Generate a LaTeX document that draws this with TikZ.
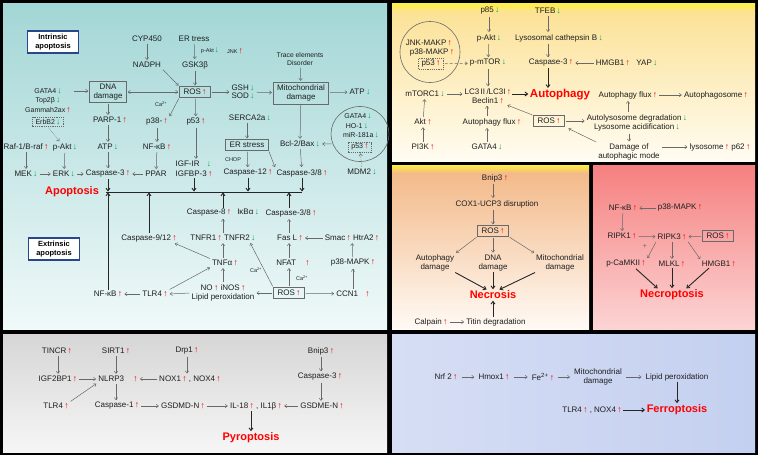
\documentclass[tikz,border=0pt]{standalone}
\usepackage{fontspec}
\setmainfont{Liberation Sans}
\usetikzlibrary{arrows.meta,shapes.geometric}
\definecolor{txt}{RGB}{30,30,30}
\definecolor{lnc}{RGB}{105,105,105}
\definecolor{upc}{RGB}{240,0,0}
\definecolor{dnc}{RGB}{0,170,80}
\definecolor{ttlred}{RGB}{255,0,0}
\definecolor{boxblue}{RGB}{40,70,140}
\newcommand{\U}{\,{\fontsize{8.6}{8}\selectfont\bfseries\color{upc}↑}}
\newcommand{\D}{\,{\fontsize{8.6}{8}\selectfont\bfseries\color{dnc}↓}}
\begin{document}
\begin{tikzpicture}[x=1pt,y=-1pt,
  t/.style={font=\fontsize{8}{9.2}\selectfont, text=txt, inner sep=1pt},
  ts/.style={font=\fontsize{7}{8}\selectfont, text=txt, inner sep=1pt},
  tx/.style={font=\fontsize{5.5}{6}\selectfont, text=txt, inner sep=0.5pt},
  gbox/.style={t, draw=lnc, line width=0.6pt, inner xsep=4pt, inner ysep=2.5pt},
  dbox/.style={t, draw=lnc, dash pattern=on 1.2pt off 1pt, line width=0.5pt, inner xsep=3pt, inner ysep=2pt},
  ttl/.style={font=\fontsize{11}{12}\selectfont\bfseries, text=ttlred, inner sep=1pt},
  tbox/.style={draw=boxblue, line width=1.2pt, fill=white, font=\fontsize{7.5}{9}\selectfont\bfseries, align=center, minimum width=51pt, minimum height=22pt, inner sep=1pt},
  ar/.style={draw=lnc, line width=0.5pt, shorten >=1pt, shorten <=1pt, -{Straight Barb[length=2.2pt,width=3.4pt]}},
  dar/.style={draw=lnc, line width=0.5pt, shorten >=1pt, shorten <=1pt, {Straight Barb[length=2.2pt,width=3.4pt]}-{Straight Barb[length=2.2pt,width=3.4pt]}},
  tar/.style={draw=black!85, line width=0.9pt, shorten >=0.5pt, -{Straight Barb[length=2.6pt,width=4pt]}},
  circ/.style={draw=lnc, line width=0.6pt, ellipse, inner sep=0pt},
]
\useasboundingbox (0,0) rectangle (758,455);
\fill[black] (0,0) rectangle (758,455);
% panels
\shade[top color={rgb,255:red,163;green,214;blue,214}, bottom color={rgb,255:red,240;green,249;blue,249}] (3,3) rectangle (387,329);
\shade[top color={rgb,255:red,255;green,238;blue,70}, bottom color={rgb,255:red,252;green,226;blue,152}] (392,3) rectangle (755,13);
\shade[top color={rgb,255:red,252;green,226;blue,152}, bottom color={rgb,255:red,255;green,252;blue,242}] (392,13) rectangle (755,161);
\shade[top color={rgb,255:red,255;green,238;blue,60}, bottom color={rgb,255:red,243;green,186;blue,138}] (392,165) rectangle (589,173);
\shade[top color={rgb,255:red,243;green,186;blue,138}, bottom color={rgb,255:red,255;green,250;blue,245}] (392,173) rectangle (589,329);
\shade[top color={rgb,255:red,246;green,128;blue,128}, bottom color={rgb,255:red,252;green,212;blue,212}] (593,165) rectangle (755,329);
\shade[top color={rgb,255:red,214;green,214;blue,214}, bottom color={rgb,255:red,246;green,246;blue,246}] (3,334) rectangle (387,452);
\shade[left color={rgb,255:red,214;green,222;blue,244}, right color={rgb,255:red,196;green,208;blue,240}] (392,334) rectangle (755,452);

% ================= Apoptosis =================
\node[tbox] (intr) at (53,42) {Intrinsic\\apoptosis};
\node[tbox] (extr) at (54,249) {Extrinsic\\apoptosis};
\node[t] (cyp) at (147,39) {CYP450};
\node[t] (nadph) at (147,65) {NADPH};
\node[t] (ert) at (194,39) {ER tress};
\node[t] (gsk) at (195,65) {GSK3β};
\node[tx] (lpakt) at (210,51) {p-Akt\D};
\node[tx] (ljnk) at (235,51) {JNK\U};
\node[gbox] (ros1) at (195,92) {ROS\U};
\node[gbox, align=center] (dna) at (108,92) {DNA\\damage};
\node[ts] (gata4) at (48,91) {GATA4\D};
\node[ts] (top2) at (48,101) {Top2β\D};
\node[ts] (gam) at (48,110) {Gammah2ax\U};
\node[dbox, font=\fontsize{7}{8}\selectfont] (erbb2) at (48,122) {ErbB2\D};
\node[t] (parp) at (110,120) {PARP-1\U};
\node[t] (p38a) at (157,122) {p38-\U};
\node[t] (p53a) at (196,122) {p53\U};
\node[tx] (ca1) at (161,104) {Ca\textsuperscript{2+}};
\node[t] (raf) at (26,147) {Raf-1/B-raf\U};
\node[t] (pakt1) at (65,147) {p-Akt\D};
\node[t] (atp1) at (108,147) {ATP\D};
\node[t] (nfkb1) at (157,147) {NF-κB\U};
\node[t] (mek) at (26,174) {MEK\D};
\node[t] (erk) at (64,174) {ERK\D};
\node[t] (casp3a) at (108,174) {Caspase-3\U};
\node[t] (ppar) at (156,174) {PPAR};
\node[t, align=left, font=\fontsize{8}{10}\selectfont] (igf) at (194,169) {IGF-IR\hspace{6pt}\D\\IGFBP-3\U};
\node[t, align=left, font=\fontsize{8}{8.6}\selectfont] (gsh) at (243,92) {GSH\D\\SOD\D};
\node[gbox, align=center] (mito1) at (301,93) {Mitochondrial\\damage};
\node[t] (atp2) at (360,92) {ATP\D};
\node[ts, align=center, font=\fontsize{6.8}{8}\selectfont] (trace) at (300,59) {Trace elements\\Disorder};
\node[t] (serca) at (250,118) {SERCA2a\D};
\node[gbox] (ers) at (247,145) {ER stress};
\node[t] (bcl) at (300,144) {Bcl-2/Bax\D};
\node[tx] (chop) at (233,160) {CHOP};
\node[t] (casp12) at (248,173) {Caspase-12\U};
\node[t] (casp38a) at (302,173) {Caspase-3/8\U};
\node[circ, minimum width=58pt, minimum height=55pt] (circA) at (360,134) {};
\node[ts] (gata4b) at (358,116) {GATA4\D};
\node[ts] (ho1) at (357,126) {HO-1\D};
\node[ts] (mir) at (361,135) {miR-181a\D};
\node[dbox, font=\fontsize{7}{8}\selectfont] (p53b) at (360,147) {p53\U};
\node[t] (mdm2) at (362,172) {MDM2\D};
\node[ttl] (apo) at (72,192) {Apoptosis};
\coordinate (barL) at (106,192);
\coordinate (barR) at (302,192);
\draw[black!85, line width=1pt] (barL) -- (barR);

\node[t] (casp912) at (149,238) {Caspase-9/12\U};
\node[t] (casp8) at (223,213) {Caspase-8\U\hspace{6pt}IκBα\D};
\node[t] (casp38b) at (291,213) {Caspase-3/8\U};
\node[t] (tnfr) at (223,238) {TNFR1\U\ TNFR2\D};
\node[t] (fasl) at (290,238) {Fas L\U};
\node[t] (smac) at (352,238) {Smac\U\ HtrA2\U};
\node[t] (tnfa) at (225,263) {TNFα\U};
\node[t] (nfat) at (293,263) {NFAT\hspace{8pt}\U};
\node[t] (p38b) at (353,263) {p38-MAPK\U};
\node[tx] (ca2) at (256,270) {Ca\textsuperscript{2+}};
\node[tx] (ca3) at (302,278) {Ca\textsuperscript{2+}};
\node[gbox] (ros2) at (289,293) {ROS\U};
\node[t] (ccn1) at (353,294) {CCN1\hspace{6pt}\U};
\node[t, align=center] (no) at (223,293) {NO\U\ iNOS\U\\Lipid peroxidation};
\node[t] (tlr4a) at (155,294) {TLR4\U};
\node[t] (nfkb2) at (108,294) {NF-κB\U};

\draw[ar] (cyp) -- (nadph);
\draw[ar] (ert) -- (gsk);
\draw[ar] (gsk) -- (ros1);
\draw[ar] (nadph.south east) -- (ros1.north west);
\draw[dar] (dna) -- (ros1);
\draw[ar] ([xshift=10pt]gata4.east) -- (gata4.east -| dna.west);
\draw[ar, densely dotted] (erbb2.south) -- ([xshift=-5pt]pakt1.north);
\draw[ar] (dna.south) -- (dna.south |- parp.north);
\draw[ar] (dna.south |- parp.south) -- (dna.south |- atp1.north);
\draw[ar] (dna.south |- atp1.south) -- (dna.south |- casp3a.north);
\draw[ar] (ros1.south west) -- (p38a.north east);
\draw[ar] (ros1) -- (p53a);
\draw[ar] (p38a) -- (nfkb1);
\draw[ar] (nfkb1) -- (ppar);
\draw[ar] (raf) -- (mek);
\draw[ar] (pakt1) -- (erk);
\draw[ar] (p53a) -- (p53a |- igf.north);
\draw[ar] (mek) -- (erk);
\draw[ar] (erk) -- (casp3a);
\draw[ar] (ppar) -- (casp3a);
\draw[ar] (ros1) -- (gsh);
\draw[ar] (gsh) -- (mito1);
\draw[ar] (mito1) -- (atp2);
\draw[ar] (trace) -- (mito1);
\draw[ar] (mito1) -- (bcl);
\draw[ar] (serca.south -| ers) -- (ers.north);
\draw[ar] (ers) -- (casp12);
\draw[ar] (ers.south east) -- (casp38a.north west);
\draw[ar] (bcl) -- (casp38a);
\draw[ar] (circA.200) -- (bcl.east);
\draw[ar, densely dotted] (mdm2) -- (p53b);
% bar arrows
\draw[tar] (casp3a.south) -- (casp3a.south |- barL);
\draw[tar] (igf.south) -- (igf.south |- barL);
\draw[tar] (casp12.south) -- (casp12.south |- barL);
\draw[tar] (casp38a.south) -- (casp38a.south |- barL);
\draw[tar] (casp912.north) -- (casp912.north |- barL);
\draw[tar] (casp8.north) -- (casp8.north |- barL);
\draw[tar] (ros2.north |- casp38b.north) -- (ros2.north |- barL);
\draw[tar] (nfkb2.north) -- (nfkb2.north |- barL);
% extrinsic
\draw[ar] (tnfr) -- (casp8);
\draw[ar] (tnfa.north -| tnfr) -- (tnfr.south);
\draw[ar] (ros2.north) -- (ros2.north |- nfat.south);
\draw[ar] (ros2.north |- nfat.north) -- (ros2.north |- fasl.south);
\draw[ar] (ros2.north |- fasl.north) -- (ros2.north |- casp38b.south);
\draw[ar] (smac) -- (fasl);
\draw[ar] (p38b) -- (smac);
\draw[ar] (ccn1) -- (p38b);
\draw[ar] (ros2) -- (ccn1);
\draw[ar] (ros2) -- (no);
\draw[ar] (no.north) -- (no.north |- tnfa.south);
\draw[ar] (ros2.north west) -- ([xshift=-7pt]tnfr.south east);
\draw[ar] (no.west) -- (tlr4a.east);
\draw[ar] (tlr4a) -- (nfkb2);
\draw[ar] (tlr4a.north east) -- (tnfa.south west);
\draw[ar] (tnfa.north west) -- ([xshift=-4pt]casp912.south east);

% ================= Autophagy =================
\node[t] (p85) at (490,11) {p85\D};
\node[t] (tfeb) at (548,11) {TFEB\D};
\node[t] (pakt2) at (489,38) {p-Akt\D};
\node[t] (lyso) at (559,38) {Lysosomal cathepsin B\D};
\node[t] (pmtor) at (488,63) {p-mTOR\D};
\node[t] (casp3b) at (551,63) {Caspase-3\U};
\node[t] (hmgb1a) at (613,63) {HMGB1\U};
\node[t] (yap) at (647,63) {YAP\D};
\node[circ, minimum width=60pt, minimum height=61pt] (circB) at (430,52) {};
\node[t] (jnk) at (429,43) {JNK-MAKP\U};
\node[t] (p38c) at (432,53) {p38-MAKP\U};
\node[dbox] (p53c) at (431,64) {p53\U};
\node[ttl, font=\fontsize{11.5}{12}\selectfont\bfseries] (auto) at (560,95) {Autophagy};
\node[t, align=center] (lc3) at (488,96) {LC3\,II\,/LC3I\U\\Beclin1\U};
\node[t] (mtorc) at (425,94) {mTORC1\D};
\node[t] (akt) at (423,122) {Akt\U};
\node[t] (pi3k) at (423,147) {PI3K\U};
\node[t] (aflux1) at (492,122) {Autophagy flux\U};
\node[t] (gata4c) at (487,147) {GATA4\D};
\node[gbox] (ros3) at (549,121) {ROS\U};
\node[t, align=center] (autol) at (637,123) {Autolysosome degradation\D\\Lysosome acidification\D};
\node[t] (aflux2) at (628,95) {Autophagy flux\U};
\node[t] (aphag) at (716,95) {Autophagosome\U};
\node[t, align=center] (dmg) at (629,152) {Damage of\\autophagic mode};
\node[t] (lysp62) at (720,147) {lysosome\U\ p62\U};

\draw[ar] (p85.south -| pakt2) -- (pakt2.north);
\draw[ar] (pakt2) -- (pmtor);
\draw[ar] (tfeb.south) -- (tfeb.south |- lyso.north);
\draw[ar] (tfeb.south |- lyso.south) -- (tfeb.south |- casp3b.north);
\draw[tar] (tfeb.south |- casp3b.south) -- (tfeb.south |- auto.north);
\draw[ar] (hmgb1a) -- (casp3b);
\draw[ar, densely dashed] (p53c) -- (pmtor);
\draw[ar] (pmtor) -- (pmtor |- lc3.north);
\draw[ar] (mtorc.east) -- (mtorc.east -| lc3.west);
\draw[tar] ([yshift=2pt]lc3.east) -- ([yshift=1pt]auto.west);
\draw[ar] (akt) -- (mtorc);
\draw[ar] (pi3k) -- (akt);
\draw[ar] (gata4c.north) -- (gata4c.north |- aflux1.south);
\draw[ar] (gata4c.north |- aflux1.north) -- (gata4c.north |- lc3.south);
\draw[ar] (ros3.north west) -- ([xshift=-6pt]lc3.south east);
\draw[ar] (ros3.east) -- (ros3.east -| autol.west);
\draw[ar] (autol.north -| aflux2) -- (aflux2.south);
\draw[ar] (aflux2) -- (aphag);
\draw[ar] (autol.south -| dmg) -- (dmg.north);
\draw[ar, shorten >=4pt] (dmg.north west) -- (ros3.south east);
\draw[ar] (dmg.east |- lysp62) -- (lysp62.west);

% ================= Necrosis =================
\node[t] (bnip3a) at (495,178) {Bnip3\U};
\node[t] (cox) at (497,204) {COX1-UCP3 disruption};
\node[gbox] (ros4) at (493,231) {ROS\U};
\node[t, align=center] (adm) at (435,263) {Autophagy\\damage};
\node[t, align=center] (dnad) at (493,263) {DNA\\damage};
\node[t, align=center] (mdm) at (560,263) {Mitochondrial\\damage};
\node[ttl] (necro) at (493,295) {Necrosis};
\node[t] (calp) at (431,322) {Calpain\U};
\node[t] (titin) at (496,322) {Titin degradation};
\draw[ar] (ros4.north |- bnip3a.south) -- (ros4.north |- cox.north);
\draw[ar] (ros4.north |- cox.south) -- (ros4.north);
\draw[ar] (ros4.south west) -- (adm.north east);
\draw[ar] (ros4) -- (dnad);
\draw[ar] (ros4.south east) -- (mdm.north west);
\draw[tar] (adm.south east) -- ([xshift=-6pt]necro.north);
\draw[tar] (dnad) -- (necro);
\draw[tar] (mdm.south west) -- ([xshift=6pt]necro.north);
\draw[ar] (calp) -- (titin);
\draw[tar] (titin.north -| necro) -- (necro.south);

% ================= Necroptosis =================
\node[t] (nfkb3) at (623,208) {NF-κB\U};
\node[t] (p38d) at (680,208) {p38-MAPK\U};
\node[t] (ripk1) at (622,236) {RIPK1\U};
\node[t] (ripk3) at (672,237) {RIPK3\U};
\node[gbox] (ros5) at (718,236) {ROS\U};
\node[t] (pcam) at (626,264) {p-CaMKII\U};
\node[t] (mlkl) at (672,264) {MLKL\U};
\node[t] (hmgb1b) at (719,264) {HMGB1\U};
\node[ttl] (necrop) at (672,295) {Necroptosis};
\node[tx, text=lnc, font=\fontsize{7}{7}\selectfont] (plusm) at (645,246) {+};
\draw[ar] (p38d) -- (nfkb3);
\draw[ar] (nfkb3) -- (ripk1);
\draw[ar] (ripk1) -- (ripk3);
\draw[ar] (ros5) -- (ripk3);
\draw[ar] (ripk3.south west) -- (pcam.north east);
\draw[ar] (ripk3) -- (mlkl);
\draw[ar] (ripk3.south east) -- (hmgb1b.north west);
\draw[tar] ([xshift=10pt]pcam.south) -- ([xshift=-14pt]necrop.north);
\draw[tar] (mlkl) -- (necrop);
\draw[tar] ([xshift=-10pt]hmgb1b.south) -- ([xshift=14pt]necrop.north);

% ================= Pyroptosis =================
\node[t] (tincr) at (57,351) {TINCR\U};
\node[t] (sirt1) at (116,351) {SIRT1\U};
\node[t] (drp1) at (187,351) {Drp1\U};
\node[t] (bnip3b) at (321,351) {Bnip3\U};
\node[t] (igf2) at (58,379) {IGF2BP1\U};
\node[t] (nlrp3) at (118,379) {NLRP3\hspace{8pt}\U};
\node[t] (nox) at (190,379) {NOX1\U\ , NOX4\U};
\node[t] (casp3c) at (320,377) {Caspase-3\U};
\node[t] (tlr4b) at (56,406) {TLR4\U};
\node[t] (casp1) at (117,406) {Caspase-1\U};
\node[t] (gsdmd) at (183,406) {GSDMD-N\U};
\node[t] (il) at (256,406) {IL-18\U\ , IL1β\U};
\node[t] (gsdme) at (322,406) {GSDME-N\U};
\node[ttl] (pyro) at (251,438) {Pyroptosis};
\draw[ar] (tincr.south -| igf2) -- (igf2.north);
\draw[ar] (igf2) -- (nlrp3);
\draw[ar] (sirt1.south) -- (sirt1.south |- nlrp3.north);
\draw[ar] (drp1.south) -- (drp1.south |- nox.north);
\draw[ar] (nox) -- (nlrp3);
\draw[ar] (tlr4b.north east) -- (nlrp3.south west);
\draw[ar] (sirt1.south |- nlrp3.south) -- (sirt1.south |- casp1.north);
\draw[ar] (casp1) -- (gsdmd);
\draw[ar] (gsdmd) -- (il);
\draw[ar] (gsdme) -- (il);
\draw[ar] (bnip3b.south) -- (bnip3b.south |- casp3c.north);
\draw[ar] (bnip3b.south |- casp3c.south) -- (bnip3b.south |- gsdme.north);
\draw[tar] (il.south -| pyro) -- (pyro.north);

% ================= Ferroptosis =================
\node[t] (nrf2) at (446,377) {Nrf 2\U};
\node[t] (hmox) at (494,377) {Hmox1\U};
\node[t] (fe) at (543,377) {Fe\textsuperscript{2+}\U};
\node[t, align=center] (mdf) at (598,377) {Mitochondrial\\damage};
\node[t] (lipid) at (677,377) {Lipid peroxidation};
\node[ttl] (ferro) at (677,410) {Ferroptosis};
\node[t] (tlrnox) at (592,410) {TLR4\U\ , NOX4\U};
\draw[ar, shorten <=3pt, shorten >=3pt] (nrf2) -- (hmox);
\draw[ar, shorten <=3pt, shorten >=3pt] (hmox) -- (fe);
\draw[ar, shorten <=3pt, shorten >=3pt] (fe) -- (mdf);
\draw[ar, shorten <=3pt, shorten >=3pt] (mdf) -- (lipid);
\draw[tar] (lipid) -- (ferro);
\draw[tar] (tlrnox) -- (ferro);
\end{tikzpicture}
\end{document}
